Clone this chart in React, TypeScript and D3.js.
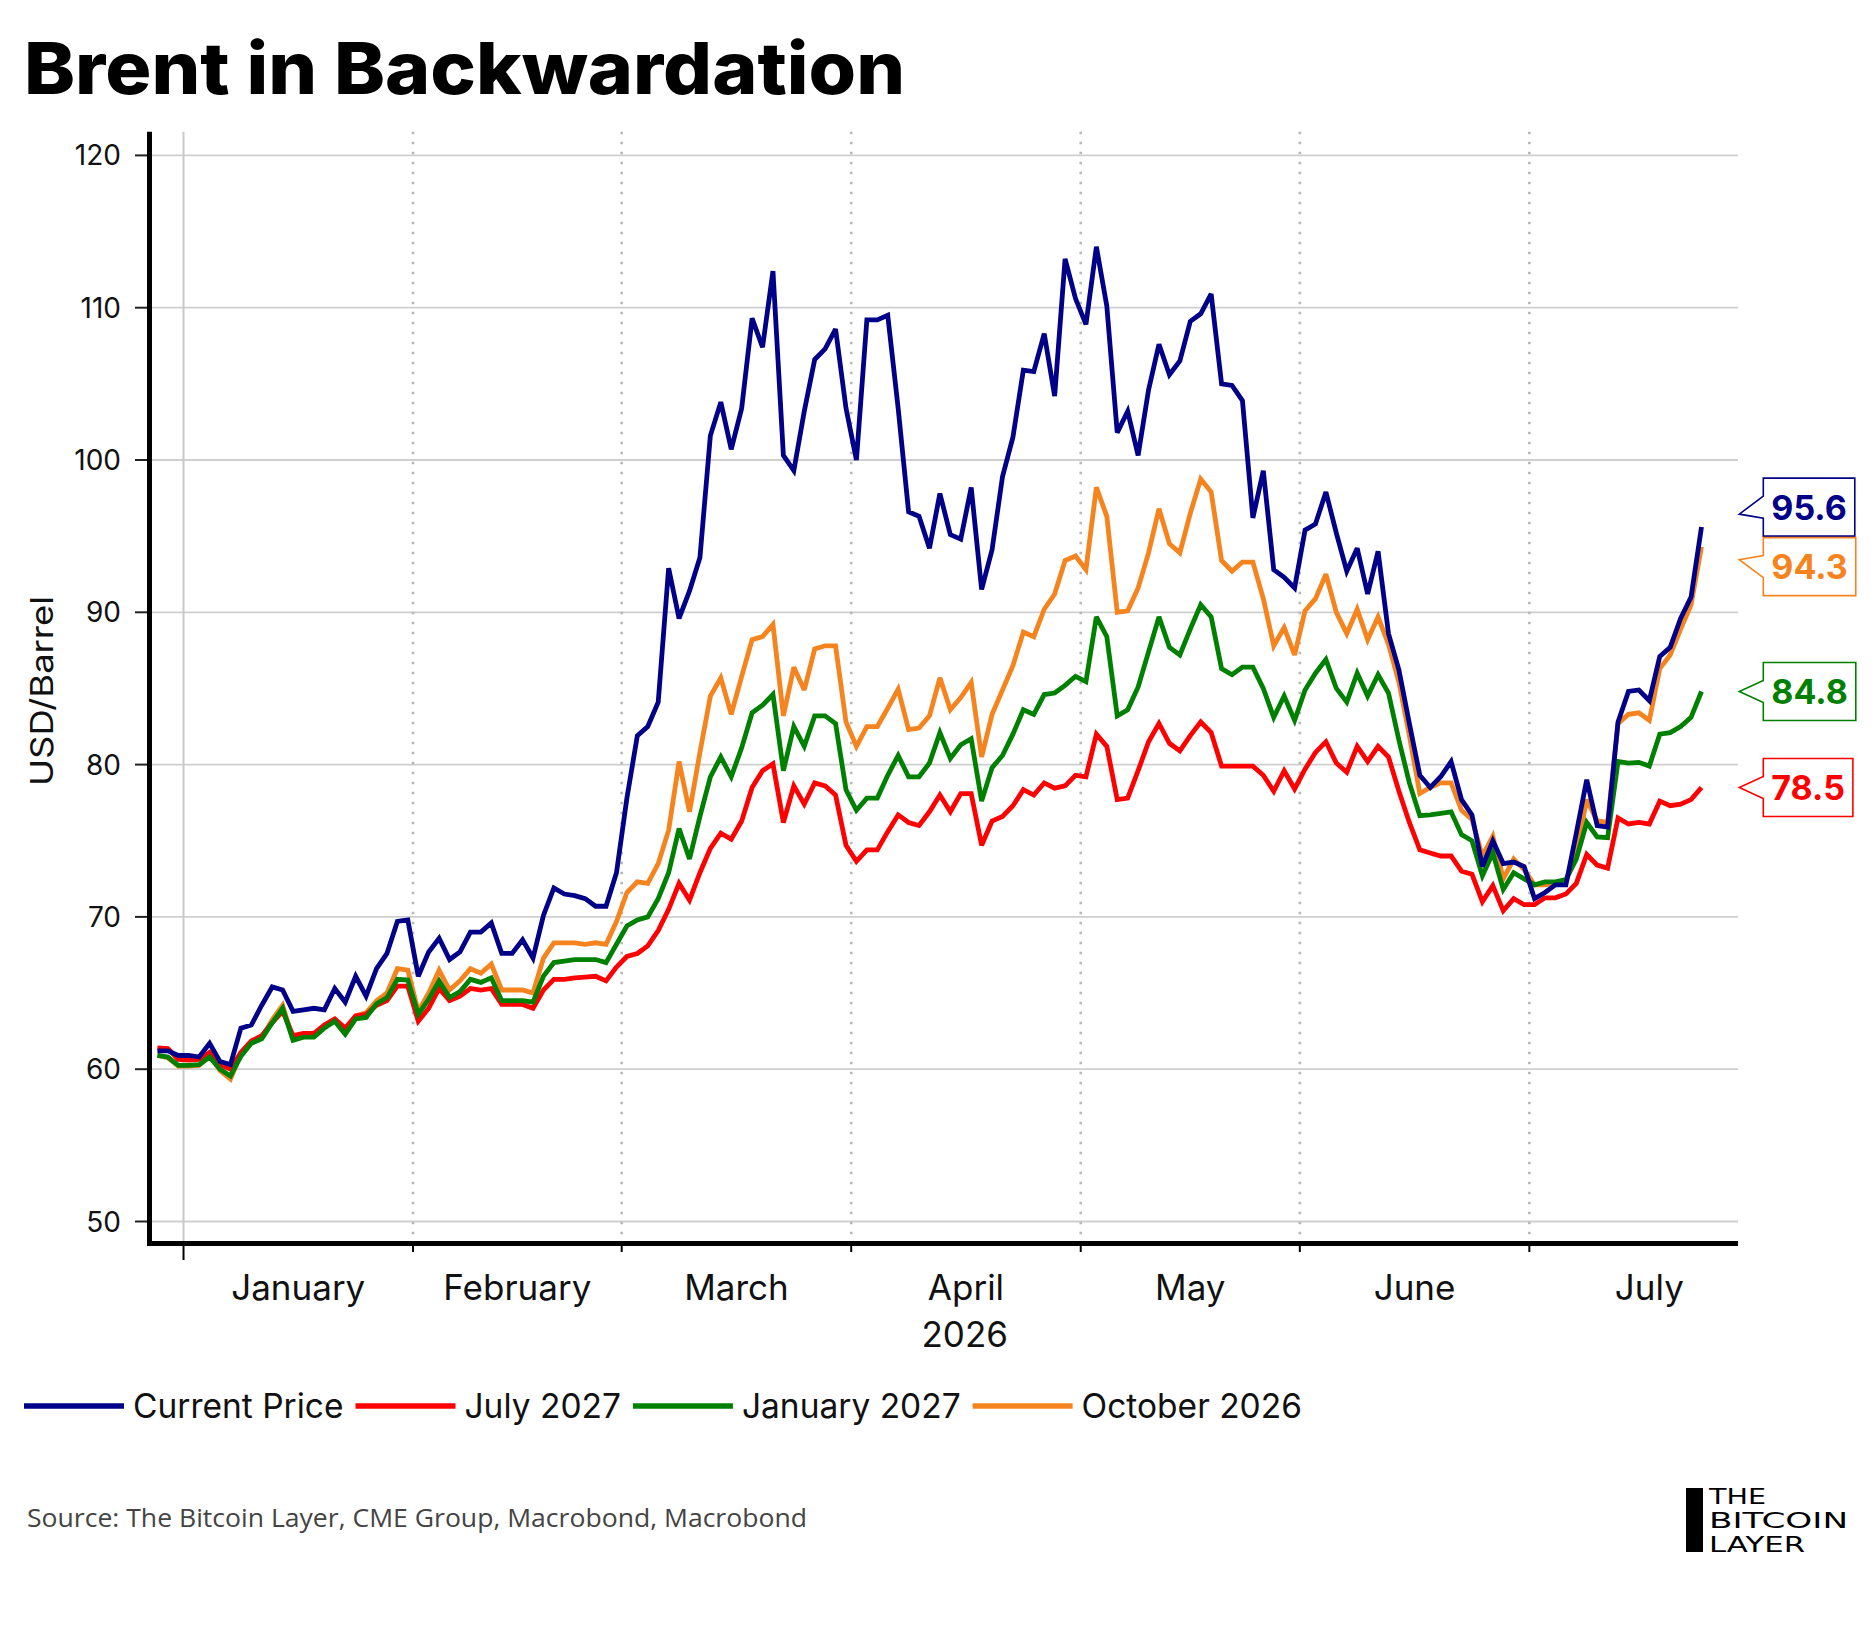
import React, { useEffect, useRef } from "react";
import * as d3 from "d3";

const seriesNames = ["Current Price", "July 2027", "January 2027", "October 2026"];
const seriesColors = ["#000088", "#ff0000", "#008000", "#f5841f"];

const currentPrice = [
  61.2, 61.2, 60.9, 60.9, 60.8, 61.7, 60.5, 60.3, 62.7, 62.9,
  64.2, 65.4, 65.2, 63.8, 63.9, 64.0, 63.9, 65.3, 64.4, 66.1,
  64.8, 66.6, 67.6, 69.7, 69.8, 66.1, 67.7, 68.6, 67.2, 67.7,
  69.0, 69.0, 69.6, 67.6, 67.6, 68.5, 67.3, 70.1, 71.9, 71.5,
  71.4, 71.2, 70.7, 70.7, 72.9, 77.8, 81.9, 82.5, 84.1, 92.9,
  89.6, 91.4, 93.6, 101.6, 103.8, 100.7, 103.4, 109.3, 107.4, 112.4,
  100.3, 99.3, 103.2, 106.6, 107.3, 108.6, 103.4, 100.0, 109.2, 109.2,
  109.5, 103.4, 96.6, 96.3, 94.2, 97.8, 95.1, 94.8, 98.2, 91.5,
  94.1, 98.9, 101.5, 105.9, 105.8, 108.3, 104.2, 113.2, 110.6, 108.9,
  114.0, 110.1, 101.8, 103.2, 100.3, 104.6, 107.6, 105.6, 106.5, 109.1,
  109.6, 110.9, 105.0, 104.9, 103.9, 96.2, 99.3, 92.8, 92.3, 91.6,
  95.4, 95.8, 97.9, 95.2, 92.7, 94.2, 91.2, 94.0, 88.6, 86.2,
  82.7, 79.3, 78.5, 79.2, 80.2, 77.7, 76.7, 73.3, 75.0, 73.5,
  73.6, 73.3, 71.2, 71.6, 72.1, 72.1, 75.5, 79.0, 76.0, 75.9,
  82.8, 84.8, 84.9, 84.2, 87.1, 87.7, 89.6, 91.0, 95.6,
];

const july2027 = [
  61.4, 61.35, 60.65, 60.6, 60.65, 61.1, 60.3, 60.0, 61.1, 61.85,
  62.2, 63.05, 63.8, 62.2, 62.35, 62.35, 62.9, 63.3, 62.7, 63.5,
  63.6, 64.2, 64.5, 65.45, 65.45, 63.15, 64.0, 65.3, 64.5, 64.8,
  65.3, 65.2, 65.3, 64.25, 64.25, 64.25, 64.0, 65.2, 65.9, 65.9,
  66.0, 66.05, 66.1, 65.8, 66.7, 67.4, 67.6, 68.1, 69.1, 70.5,
  72.2, 71.1, 72.9, 74.5, 75.5, 75.1, 76.3, 78.5, 79.6, 80.05,
  76.2, 78.6, 77.4, 78.8, 78.6, 78.0, 74.7, 73.65, 74.4, 74.4,
  75.6, 76.7, 76.2, 76.0, 76.9, 78.0, 76.9, 78.1, 78.1, 74.7,
  76.3, 76.6, 77.3, 78.35, 78.0, 78.8, 78.45, 78.6, 79.3, 79.2,
  82.0, 81.2, 77.7, 77.8, 79.6, 81.5, 82.7, 81.4, 80.9, 81.9,
  82.8, 82.1, 79.9, 79.9, 79.9, 79.9, 79.3, 78.25, 79.6, 78.4,
  79.7, 80.8, 81.5, 80.1, 79.5, 81.2, 80.2, 81.2, 80.5, 78.25,
  76.2, 74.4, 74.2, 74.0, 74.0, 73.0, 72.8, 71.0, 72.05, 70.4,
  71.2, 70.8, 70.8, 71.25, 71.25, 71.5, 72.2, 74.1, 73.4, 73.2,
  76.5, 76.1, 76.2, 76.1, 77.6, 77.3, 77.4, 77.7, 78.5,
];

const january2027 = [
  60.9, 60.8, 60.25, 60.25, 60.3, 60.8, 60.0, 59.55, 60.85, 61.7,
  62.0, 63.05, 64.0, 61.9, 62.1, 62.1, 62.7, 63.15, 62.3, 63.3,
  63.4, 64.3, 64.7, 65.9, 65.85, 63.6, 64.6, 65.8, 64.7, 65.1,
  65.9, 65.7, 66.0, 64.5, 64.5, 64.5, 64.4, 66.1, 67.0, 67.1,
  67.2, 67.2, 67.2, 67.0, 68.2, 69.4, 69.8, 70.0, 71.2, 72.9,
  75.8, 73.8, 76.6, 79.2, 80.5, 79.2, 81.1, 83.4, 83.9, 84.6,
  79.6, 82.5, 81.2, 83.2, 83.2, 82.7, 78.35, 77.0, 77.8, 77.8,
  79.3, 80.6, 79.2, 79.2, 80.1, 82.1, 80.4, 81.3, 81.7, 77.6,
  79.8, 80.6, 82.0, 83.6, 83.3, 84.6, 84.7, 85.2, 85.8, 85.45,
  89.7, 88.4, 83.2, 83.6, 85.1, 87.4, 89.7, 87.7, 87.2, 88.9,
  90.5, 89.7, 86.3, 85.9, 86.4, 86.4, 85.0, 83.1, 84.5, 82.9,
  84.9, 86.0, 86.9, 85.0, 84.1, 86.0, 84.5, 85.9, 84.7, 81.6,
  78.8, 76.65, 76.7, 76.8, 76.9, 75.4, 75.0, 72.7, 74.2, 71.8,
  72.9, 72.5, 72.1, 72.3, 72.3, 72.45, 73.8, 76.2, 75.25, 75.2,
  80.2, 80.1, 80.15, 79.9, 82.0, 82.1, 82.5, 83.1, 84.8,
];

const october2026 = [
  60.9, 60.75, 60.2, 60.2, 60.25, 60.9, 59.9, 59.35, 61.0, 61.75,
  62.05, 63.25, 64.2, 61.95, 62.2, 62.2, 62.8, 63.2, 62.4, 63.5,
  63.7, 64.5, 65.0, 66.6, 66.5, 63.8, 65.0, 66.5, 65.2, 65.8,
  66.6, 66.3, 66.9, 65.2, 65.2, 65.2, 65.0, 67.3, 68.3, 68.3,
  68.3, 68.2, 68.3, 68.2, 69.7, 71.6, 72.3, 72.2, 73.5, 75.7,
  80.2, 76.9, 80.8, 84.5, 85.7, 83.3, 85.8, 88.2, 88.4, 89.2,
  83.2, 86.4, 84.9, 87.6, 87.8, 87.8, 82.8, 81.2, 82.5, 82.5,
  83.7, 84.95, 82.3, 82.4, 83.2, 85.7, 83.6, 84.4, 85.4, 80.5,
  83.3, 84.9, 86.5, 88.7, 88.4, 90.2, 91.2, 93.4, 93.7, 92.8,
  98.2, 96.3, 90.0, 90.1, 91.6, 93.9, 96.8, 94.5, 93.9, 96.5,
  98.75, 97.9, 93.4, 92.7, 93.3, 93.3, 90.9, 87.8, 89.0, 87.2,
  90.1, 90.9, 92.5, 90.0, 88.6, 90.2, 88.2, 89.7, 87.9, 85.4,
  81.9, 78.1, 78.5, 78.8, 78.8, 77.0, 76.4, 74.0, 75.3, 72.5,
  73.8, 73.1, 72.1, 72.1, 72.2, 72.3, 74.2, 77.7, 76.3, 76.2,
  82.7, 83.3, 83.4, 82.9, 86.3, 87.2, 88.9, 90.5, 94.3,
];

const monthLabels = ["January", "February", "March", "April", "May", "June", "July"];
const yTicks = [50, 60, 70, 80, 90, 100, 110, 120];
const yearLabel = "2026";
const titleText = "Brent in Backwardation";
const yAxisTitle = "USD/Barrel";
const sourceText = "Source: The Bitcoin Layer, CME Group, Macrobond, Macrobond";
const logoLines = ["THE", "BITCOIN", "LAYER"];

// weekday calendar starting Mon 29 Dec 2025 (x axis is indexed by weekday)
function weekdays(start: Date, end: Date): Date[] {
  const out: Date[] = [];
  const d = new Date(start);
  while (d <= end) {
    const wd = d.getDay();
    if (wd !== 0 && wd !== 6) out.push(new Date(d));
    d.setDate(d.getDate() + 1);
  }
  return out;
}

export default function App() {
  const ref = useRef<SVGSVGElement>(null);

  useEffect(() => {
    const svg = d3.select(ref.current);
    svg.selectAll("*").remove();
    const W = 1875, H = 1625;
    const FONT = "Inter, 'Noto Sans', sans-serif";

    svg.append("rect").attr("width", W).attr("height", H).attr("fill", "#ffffff");

    // title
    svg.append("text")
      .attr("x", 24).attr("y", 94)
      .attr("font-family", FONT).attr("font-weight", 800).attr("font-size", 72)
      .attr("textLength", 881).attr("lengthAdjust", "spacingAndGlyphs")
      .attr("fill", "#000")
      .text(titleText);

    const plotTop = 131.7;
    const axisY = 1243.5;
    const axisX = 149.5;
    const plotRight = 1738;

    const x = d3.scaleLinear().domain([-1, 151.5]).range([147, plotRight]);
    const y = d3.scaleLinear().domain([50, 120]).range([1221.5, 155.4]);

    const days = weekdays(new Date(2025, 11, 29), new Date(2026, 7, 31));
    const boundaries: number[] = [];
    for (let i = 1; i < days.length; i++) {
      if (days[i].getMonth() !== days[i - 1].getMonth()) boundaries.push(i - 0.5);
    }
    const tickB = boundaries.slice(0, monthLabels.length);

    // horizontal grid
    const g = svg.append("g");
    g.selectAll("line.hg").data(yTicks).enter().append("line")
      .attr("x1", axisX + 2).attr("x2", plotRight)
      .attr("y1", (d) => y(d)).attr("y2", (d) => y(d))
      .attr("stroke", "#cfcfcf").attr("stroke-width", 1.8);

    // vertical grid
    g.selectAll("line.vg").data(tickB).enter().append("line")
      .attr("x1", (d) => x(d)).attr("x2", (d) => x(d))
      .attr("y1", plotTop).attr("y2", axisY - 2)
      .attr("stroke", (d, i) => (i === 0 ? "#c8c8c8" : "#b8b8b8"))
      .attr("stroke-width", (d, i) => (i === 0 ? 2 : 2.6))
      .attr("stroke-dasharray", (d, i) => (i === 0 ? null : "2.6 7.4"));

    // series
    const allSeries = [currentPrice, july2027, january2027, october2026];
    const line = d3.line<number>().x((d, i) => x(i)).y((d) => y(d));
    const drawOrder = [3, 1, 2, 0];
    drawOrder.forEach((k) => {
      svg.append("path")
        .attr("d", line(allSeries[k]) as string)
        .attr("fill", "none")
        .attr("stroke", seriesColors[k])
        .attr("stroke-width", 4.8)
        .attr("stroke-linejoin", "miter")
        .attr("stroke-miterlimit", 3);
    });

    // axes
    svg.append("line").attr("x1", axisX).attr("x2", axisX)
      .attr("y1", plotTop).attr("y2", axisY + 2.5)
      .attr("stroke", "#000").attr("stroke-width", 5);
    svg.append("line").attr("x1", 147).attr("x2", plotRight)
      .attr("y1", axisY).attr("y2", axisY)
      .attr("stroke", "#000").attr("stroke-width", 5);

    // y ticks
    svg.selectAll("line.yt").data(yTicks).enter().append("line")
      .attr("x1", 135).attr("x2", 147)
      .attr("y1", (d) => y(d)).attr("y2", (d) => y(d))
      .attr("stroke", "#222").attr("stroke-width", 2);
    svg.selectAll("text.yl").data(yTicks).enter().append("text")
      .attr("x", 121).attr("y", (d) => y(d) + 10)
      .attr("text-anchor", "end")
      .attr("font-family", FONT).attr("font-size", 28).attr("fill", "#111")
      .text((d) => String(d));

    // x ticks
    svg.selectAll("line.xt").data(tickB).enter().append("line")
      .attr("x1", (d) => x(d)).attr("x2", (d) => x(d))
      .attr("y1", axisY + 2).attr("y2", (d, i) => (i === 0 ? 1260 : 1252))
      .attr("stroke", "#000").attr("stroke-width", 2);

    // month labels
    const centers = monthLabels.map((m, i) => (x(boundaries[i]) + x(boundaries[i + 1])) / 2);
    svg.selectAll("text.ml").data(monthLabels).enter().append("text")
      .attr("x", (d, i) => centers[i]).attr("y", 1300)
      .attr("text-anchor", "middle")
      .attr("font-family", FONT).attr("font-size", 35).attr("fill", "#111")
      .text((d) => d);
    svg.append("text")
      .attr("x", (x(tickB[0]) + plotRight) / 2 + 4).attr("y", 1347)
      .attr("text-anchor", "middle")
      .attr("font-family", FONT).attr("font-size", 35).attr("fill", "#111")
      .text(yearLabel);

    // y axis title
    svg.append("text")
      .attr("transform", "translate(53,691) rotate(-90)")
      .attr("text-anchor", "middle")
      .attr("font-family", FONT).attr("font-size", 31).attr("fill", "#111")
      .attr("textLength", 190).attr("lengthAdjust", "spacingAndGlyphs")
      .text(yAxisTitle);

    // legend
    let lx = 24;
    const ly = 1406;
    seriesNames.forEach((name, k) => {
      svg.append("line").attr("x1", lx).attr("x2", lx + 100)
        .attr("y1", ly).attr("y2", ly)
        .attr("stroke", seriesColors[k]).attr("stroke-width", 5.4);
      const t = svg.append("text")
        .attr("x", lx + 109).attr("y", 1418)
        .attr("font-family", FONT).attr("font-size", 33.5).attr("fill", "#111")
        .text(name);
      const w = (t.node() as SVGTextElement).getComputedTextLength();
      lx = lx + 109 + w + 12;
    });

    // source
    svg.append("text")
      .attr("x", 27).attr("y", 1527)
      .attr("font-family", "'Open Sans', 'Noto Sans', sans-serif").attr("font-size", 25)
      .attr("fill", "#444")
      .attr("textLength", 780).attr("lengthAdjust", "spacingAndGlyphs")
      .text(sourceText);

    // logo
    svg.append("rect").attr("x", 1686).attr("y", 1488).attr("width", 17).attr("height", 64).attr("fill", "#000");
    const logoLens = [57, 139, 96];
    const logoBase = [1504, 1528, 1552];
    logoLines.forEach((s, i) => {
      svg.append("text")
        .attr("x", 1709).attr("y", logoBase[i])
        .attr("font-family", "'DejaVu Sans', sans-serif").attr("font-size", 21)
        .attr("textLength", logoLens[i]).attr("lengthAdjust", "spacingAndGlyphs")
        .attr("fill", "#000")
        .text(s);
    });

    // end-value labels
    const boxH = 58;
    const minSep = 59.5;
    const labels = allSeries.map((s, k) => {
      const v = s[s.length - 1];
      return { k, v, dataY: y(v), c: y(v) };
    }).sort((a, b) => a.dataY - b.dataY);
    let moved = true;
    let iter = 0;
    while (moved && iter < 50) {
      moved = false; iter++;
      for (let i = 0; i < labels.length - 1; i++) {
        const a = labels[i], b = labels[i + 1];
        if (b.c - a.c < minSep - 0.01) {
          const mid = (a.c + b.c) / 2;
          a.c = mid - minSep / 2; b.c = mid + minSep / 2;
          moved = true;
        }
      }
    }
    const bx = 1763.3;
    const tipX = 1739.3;
    labels.forEach((L) => {
      const col = seriesColors[L.k];
      const gL = svg.append("g");
      const txt = gL.append("text")
        .attr("y", L.c + 12.5)
        .attr("text-anchor", "middle")
        .attr("font-family", FONT).attr("font-weight", 700).attr("font-size", 34)
        .attr("fill", col)
        .text(L.v.toFixed(1));
      const tw = (txt.node() as SVGTextElement).getComputedTextLength();
      const bw = tw + 16;
      const top = L.c - boxH / 2;
      const tipY = L.c + Math.max(-7, Math.min(7, L.dataY - L.c));
      const p = d3.path();
      p.moveTo(bx, top);
      p.lineTo(bx + bw, top);
      p.lineTo(bx + bw, top + boxH);
      p.lineTo(bx, top + boxH);
      p.lineTo(bx, L.c + 11);
      p.lineTo(tipX, tipY);
      p.lineTo(bx, L.c - 11);
      p.closePath();
      gL.insert("path", "text")
        .attr("d", p.toString())
        .attr("fill", "#fff").attr("stroke", col).attr("stroke-width", 1.6);
      txt.attr("x", bx + bw / 2);
    });
  }, []);

  return (
    <svg
      ref={ref}
      width={1875}
      height={1625}
      style={{ position: "absolute", left: 0, top: 0, display: "block" }}
    />
  );
}
